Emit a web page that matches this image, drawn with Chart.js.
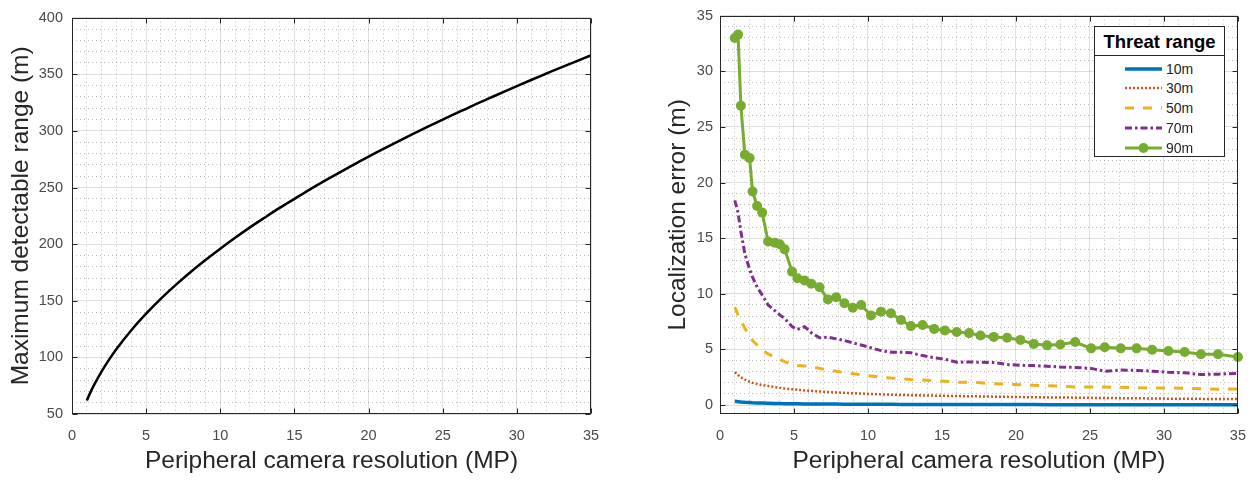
<!DOCTYPE html>
<html>
<head>
<meta charset="utf-8">
<title>Peripheral camera resolution</title>
<script src="https://cdn.jsdelivr.net/npm/chart.js@4.4.0/dist/chart.umd.min.js"></script>
<style>
    body { margin: 0; background: #fff; }
    #wrap { position: relative; width: 1259px; height: 481px; overflow: hidden; }
    #wrap canvas { position: absolute; top: 0; }
    #rangeChart { left: 0; }
    #errorChart { left: 630px; }
    #legend {
        position: absolute; left: 1094px; top: 26px; width: 129px; height: 129px;
        border: 1px solid #262626; background: #fff;
        font-family: 'Liberation Sans', Arial, Helvetica, sans-serif;
    }
    #legend .title {
        height: 28px; line-height: 29px; border-bottom: 1px solid #262626;
        text-align: center; font-weight: bold; font-size: 18.5px; color: #000;
    }
    #legend .row {
        position: absolute; left: 30px; height: 20px;
        display: flex; align-items: center; font-size: 14px; color: #262626;
    }
    #legend svg { margin-right: 4px; }
</style>
</head>
<body>
<div id="wrap">
    <canvas id="rangeChart" width="630" height="481"></canvas>
    <canvas id="errorChart" width="629" height="481"></canvas>
    <div id="legend"></div>
</div>
<script>
// Left plot: maximum detectable range for each resolution
const resolutionMP = [1, 1.25, 1.5, 2, 2.5, 3, 4, 5, 6, 7, 8, 9, 10, 11, 12, 13, 14, 15, 16, 17, 18,
    19, 20, 21, 22, 23, 24, 25, 26, 27, 28, 29, 30, 31, 32, 33, 34, 35];
const maxRangeM = [62, 69.3, 75.9, 87.7, 98, 107.4, 124, 138.6, 151.9, 164, 175.4, 186, 196, 205.6,
    214.8, 223.5, 232, 240, 248, 255.6, 263, 270.2, 277.3, 284.1, 290.8, 297.3, 303.7,
    310, 316.1, 322.2, 328, 333.9, 339.6, 345.2, 350.7, 356.2, 361.5, 366.8];

// Right plot: localization error per threat range
const errorResolutionMP = [1.0, 1.22, 1.41, 1.68, 2.0, 2.2, 2.51, 2.85, 3.25, 3.7,
    4.04, 4.37, 4.87, 5.23, 5.72, 6.17, 6.73, 7.29, 7.85, 8.41,
    8.97, 9.54, 10.2, 10.88, 11.55, 12.23, 12.9, 13.69, 14.47, 15.2,
    16.0, 16.83, 17.6, 18.5, 19.4, 20.3, 21.2, 22.1, 23.0, 24.0,
    25.08, 26.0, 27.08, 28.15, 29.2, 30.3, 31.4, 32.5, 33.65, 35];
const threatLabels = ['10m', '30m', '50m', '70m', '90m'];
const error10m = [0.35, 0.31, 0.28, 0.25, 0.23, 0.21, 0.19, 0.18, 0.16, 0.15,
    0.14, 0.13, 0.12, 0.12, 0.11, 0.1, 0.1, 0.09, 0.09, 0.08,
    0.08, 0.08, 0.07, 0.07, 0.07, 0.06, 0.06, 0.06, 0.06, 0.06,
    0.05, 0.05, 0.05, 0.05, 0.05, 0.05, 0.05, 0.04, 0.04, 0.04,
    0.04, 0.04, 0.04, 0.04, 0.04, 0.04, 0.03, 0.03, 0.03, 0.03];
const error30m = [2.95, 2.7, 2.5, 2.3, 2.1, 2.0, 1.9, 1.8, 1.72, 1.62,
    1.55, 1.5, 1.43, 1.38, 1.32, 1.28, 1.22, 1.18, 1.14, 1.1,
    1.07, 1.04, 1.0, 0.97, 0.94, 0.91, 0.89, 0.87, 0.85, 0.83,
    0.82, 0.8, 0.78, 0.76, 0.74, 0.72, 0.71, 0.69, 0.68, 0.67,
    0.65, 0.64, 0.62, 0.61, 0.6, 0.58, 0.57, 0.56, 0.55, 0.54];
const error50m = [8.8, 8.1, 7.6, 6.9, 6.2, 5.8, 5.4, 4.95, 4.6, 4.3,
    4.1, 3.9, 3.65, 3.55, 3.52, 3.45, 3.3, 3.15, 3.05, 2.92,
    2.82, 2.73, 2.62, 2.5, 2.43, 2.38, 2.3, 2.25, 2.21, 2.15,
    2.06, 2.06, 2.0, 1.92, 1.88, 1.83, 1.78, 1.74, 1.7, 1.63,
    1.62, 1.62, 1.6, 1.57, 1.53, 1.53, 1.52, 1.48, 1.43, 1.45];
const error70m = [18.4, 17.3, 15.6, 13.6, 12.2, 11.5, 10.6, 9.9, 9.0, 8.5,
    8.1, 7.8, 7.05, 6.8, 7.05, 6.5, 6.05, 6.1, 5.95, 5.8,
    5.6, 5.4, 5.15, 4.9, 4.75, 4.75, 4.7, 4.45, 4.25, 4.13,
    3.85, 3.88, 3.85, 3.83, 3.65, 3.58, 3.55, 3.5, 3.42, 3.39,
    3.3, 3.04, 3.15, 3.12, 3.05, 2.95, 2.9, 2.75, 2.78, 2.85];
const error90m = [33.0, 33.3, 26.9, 22.5, 22.2, 19.2, 17.9, 17.3, 14.7, 14.6,
    14.45, 14.0, 12.0, 11.4, 11.2, 10.9, 10.6, 9.5, 9.7, 9.15,
    8.75, 9.0, 8.05, 8.4, 8.25, 7.65, 7.1, 7.2, 6.85, 6.7,
    6.57, 6.47, 6.25, 6.13, 6.06, 5.86, 5.5, 5.37, 5.44, 5.67,
    5.1, 5.2, 5.1, 5.1, 4.98, 4.86, 4.78, 4.57, 4.57, 4.33];

// Tick labels
const resolutionTicks = [0, 5, 10, 15, 20, 25, 30, 35];
const rangeTicks = [50, 100, 150, 200, 250, 300, 350, 400];
const errorTicks = [0, 5, 10, 15, 20, 25, 30, 35];

const FONT = "'Liberation Sans', Arial, Helvetica, sans-serif";
const TITLE_COLOR = '#262626';
const TICK_COLOR = '#4a4a4a';
const GRID_MAJOR = 'rgba(38, 38, 38, 0.15)';
const GRID_MINOR = 'rgba(38, 38, 38, 0.3)';

// MATLAB style box with inward ticks
const axesBox = {
    id: 'axesBox',
    afterDatasetsDraw(chart) {
        const { ctx, chartArea: a, scales } = chart;
        const l = Math.round(a.left) + 0.5, r = Math.round(a.right) - 0.5;
        const t = Math.round(a.top) + 0.5, b = Math.round(a.bottom) - 0.5;
        ctx.save();
        ctx.strokeStyle = '#262626';
        ctx.lineWidth = 1;
        ctx.strokeRect(l, t, r - l, b - t);
        ctx.beginPath();
        scales.x.ticks.forEach(tick => {
            const px = Math.round(scales.x.getPixelForValue(tick.value)) + 0.5;
            ctx.moveTo(px, b); ctx.lineTo(px, b - 5);
            ctx.moveTo(px, t); ctx.lineTo(px, t + 5);
        });
        scales.y.ticks.forEach(tick => {
            const py = Math.round(scales.y.getPixelForValue(tick.value)) + 0.5;
            ctx.moveTo(l, py); ctx.lineTo(l + 5, py);
            ctx.moveTo(r, py); ctx.lineTo(r - 5, py);
        });
        ctx.stroke();
        ctx.restore();
    }
};

function makeScales(cfg) {
    const minorOnly = step => axis => {
        axis.ticks = axis.ticks.filter(t => Math.abs(t.value / step - Math.round(t.value / step)) < 1e-6 &&
            Math.abs(t.value / (step * 5) - Math.round(t.value / (step * 5))) > 1e-6);
    };
    return {
        x: {
            type: 'linear', min: 0, max: 35,
            afterBuildTicks: axis => { axis.ticks = resolutionTicks.map(v => ({ value: v })); },
            afterFit: scale => { scale.height = 67; },
            ticks: { font: { family: FONT, size: 14.5 }, color: TICK_COLOR, padding: 13, autoSkip: false, maxRotation: 0 },
            grid: { color: GRID_MAJOR, drawTicks: false },
            border: { display: false },
            title: { display: true, text: 'Peripheral camera resolution (MP)', color: TITLE_COLOR,
                font: { family: FONT, size: 24.5 }, padding: { top: 0, bottom: 5 } }
        },
        xMinor: {
            type: 'linear', position: 'bottom', min: 0, max: 35,
            ticks: { display: false, stepSize: 1, autoSkip: false },
            afterBuildTicks: minorOnly(1),
            afterFit: scale => { scale.height = 0; },
            grid: { color: GRID_MINOR, drawTicks: false },
            border: { display: false, dash: [1, 3] }
        },
        y: {
            type: 'linear', min: cfg.yMin, max: cfg.yMax,
            afterBuildTicks: axis => { axis.ticks = cfg.yTicks.map(v => ({ value: v })); },
            afterFit: scale => { scale.width = cfg.yWidth; },
            ticks: { font: { family: FONT, size: 14.5 }, color: TICK_COLOR, padding: cfg.yLabelPad, autoSkip: false },
            grid: { color: GRID_MAJOR, drawTicks: false },
            border: { display: false },
            title: { display: true, text: cfg.yTitle, color: TITLE_COLOR,
                font: { family: FONT, size: 24.5 }, padding: { top: cfg.yTitlePad, bottom: 0 } }
        },
        yMinor: {
            type: 'linear', position: 'left', min: cfg.yMin, max: cfg.yMax,
            ticks: { display: false, stepSize: cfg.yMinorStep, autoSkip: false },
            afterBuildTicks: minorOnly(cfg.yMinorStep),
            afterFit: scale => { scale.width = 0; },
            grid: { color: GRID_MINOR, drawTicks: false },
            border: { display: false, dash: [1, 3] }
        }
    };
}

const toPoints = (xs, ys) => xs.map((x, i) => ({ x: x, y: ys[i] }));

document.addEventListener('DOMContentLoaded', function() {

    // Left chart
    new Chart(document.getElementById('rangeChart'), {
        type: 'line',
        data: {
            datasets: [{
                label: 'Maximum detectable range',
                data: toPoints(resolutionMP, maxRangeM),
                borderColor: '#000',
                borderWidth: 2.5,
                pointRadius: 0,
                cubicInterpolationMode: 'monotone'
            }]
        },
        options: {
            responsive: false,
            animation: false,
            layout: { padding: { top: 9, right: 39, left: 0, bottom: 0 } },
            plugins: { legend: { display: false }, tooltip: { enabled: false } },
            scales: makeScales({ yMin: 50, yMax: 400, yTicks: rangeTicks, yMinorStep: 10,
                yWidth: 72, yLabelPad: 9, yTitlePad: 7, yTitle: 'Maximum detectable range (m)' })
        },
        plugins: [axesBox]
    });

    // Right chart
    const styles = [
        { color: '#0072BD', width: 3.5, dash: [] },
        { color: '#D95319', width: 2.5, dash: [2, 2] },
        { color: '#EDB120', width: 3, dash: [9, 9] },
        { color: '#7E2F8E', width: 3, dash: [7, 3, 2.5, 3] },
        { color: '#77AC30', width: 3, dash: [], marker: 5 }
    ];
    const series = [error10m, error30m, error50m, error70m, error90m];

    const errorChart = new Chart(document.getElementById('errorChart'), {
        type: 'line',
        data: {
            datasets: series.map((values, i) => ({
                label: threatLabels[i],
                data: toPoints(errorResolutionMP, values),
                borderColor: styles[i].color,
                backgroundColor: styles[i].color,
                borderWidth: styles[i].width,
                borderDash: styles[i].dash,
                borderCapStyle: 'butt',
                pointRadius: styles[i].marker || 0,
                pointBorderWidth: 0,
                pointBackgroundColor: styles[i].color,
                tension: 0,
                clip: 8
            })).reverse()
        },
        options: {
            responsive: false,
            animation: false,
            layout: { padding: { top: 9, right: 19, left: 0, bottom: 0 } },
            plugins: { legend: { display: false }, tooltip: { enabled: false } },
            scales: makeScales({ yMin: -0.8, yMax: 35, yTicks: errorTicks, yMinorStep: 1,
                yWidth: 90, yLabelPad: 7, yTitlePad: 34, yTitle: 'Localization error (m)' })
        },
        plugins: [axesBox]
    });

    // HTML legend built from the datasets
    const legend = document.getElementById('legend');
    legend.innerHTML = '<div class="title">Threat range</div>';
    threatLabels.forEach((label, i) => {
        const ds = errorChart.data.datasets.find(d => d.label === label);
        const row = document.createElement('div');
        row.className = 'row';
        row.style.top = (31.5 + i * 19.8) + 'px';
        let svg = '<svg width="37" height="12"><line x1="0" y1="6" x2="37" y2="6" stroke="' + ds.borderColor +
            '" stroke-width="' + ds.borderWidth + '" stroke-dasharray="' + (ds.borderDash.join(' ') || 'none') + '"/>';
        if (ds.pointRadius) {
            svg += '<circle cx="18.5" cy="6" r="' + ds.pointRadius + '" fill="' + ds.borderColor + '"/>';
        }
        svg += '</svg>';
        row.innerHTML = svg + '<span>' + label + '</span>';
        legend.appendChild(row);
    });
});
</script>
</body>
</html>
